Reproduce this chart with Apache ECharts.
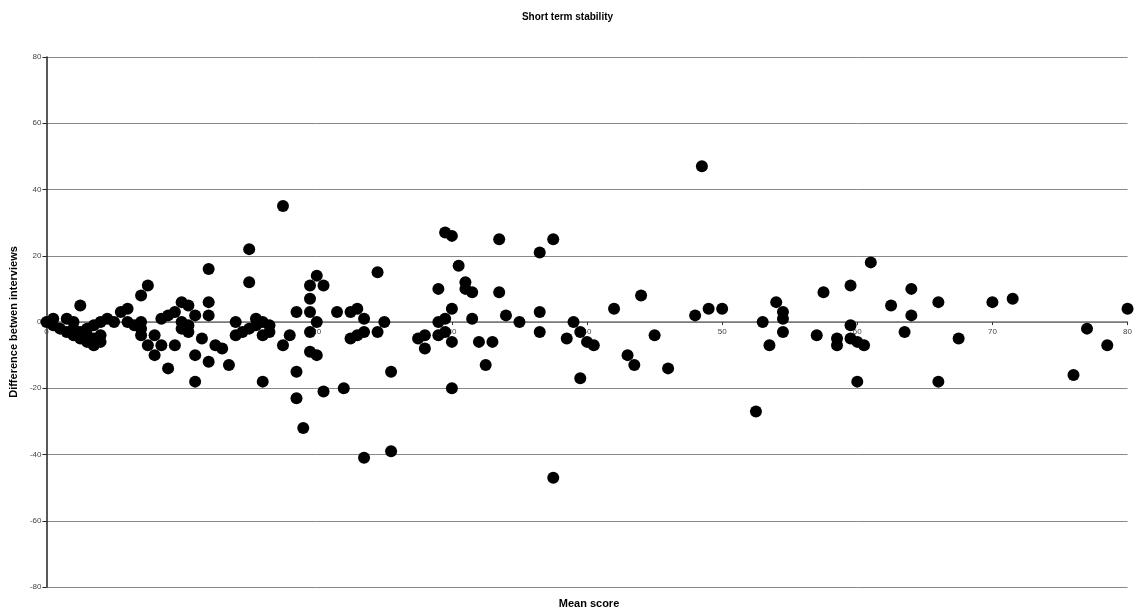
<!DOCTYPE html>
<html><head><meta charset="utf-8">
<script src="https://cdn.jsdelivr.net/npm/echarts@6/dist/echarts.min.js"></script>
<style>html,body{margin:0;padding:0;background:#fff}#c{width:1135px;height:615px}</style>
</head><body><div id="c"></div>
<script>
const xTicks = [0,10,20,30,40,50,60,70,80];
const yTicks = [-80,-60,-40,-20,0,20,40,60,80];
const meanScore = [0,0.5,0.5,1,1.5,1.5,2,2,2,2.5,2.5,2.5,3,3,3,3.5,3.5,3.5,4,4,4,4.5,5,5.5,6,6,6.5,7,7,7,7,7.5,7.5,8,8,8.5,8.5,9,9,9.5,9.5,10,10,10,10.5,10.5,10.5,11,11,11,11.5,12,12,12,12,12.5,13,13.5,14,14,14.5,15,15,15,15.5,15.5,16,16,16,16.5,16.5,
17.5,17.5,18,18.5,18.5,18.5,19,19.5,19.5,19.5,19.5,19.5,20,20,20,20.5,20.5,21.5,22,22.5,22.5,23,23,23.5,23.5,23.5,24.5,24.5,25,25.5,25.5,27.5,28,28,29,29,29,29.5,29.5,29.5,30,30,30,30,30.5,31,31,31.5,31.5,32,32.5,33,33.5,33.5,34,35,36.5,36.5,36.5,37.5,37.5,38.5,39,39.5,39.5,40,40.5,42,43,43.5,44,45,46,48,48.5,49,50,52.5,53,53.5,54,54.5,54.5,54.5,57,57.5,58.5,58.5,59.5,59.5,59.5,60,60,60.5,61,62.5,63.5,64,64,66,66,67.5,70,71.5,76,77,78.5,80];
const difference = [0,1,-1,-2,1,-3,0,-2,-4,5,-3,-5,-2,-4,-6,-1,-5,-7,0,-4,-6,1,0,3,4,0,-1,8,0,-2,-4,11,-7,-4,-10,1,-7,2,-14,3,-7,6,0,-2,5,-1,-3,2,-10,-18,-5,16,6,2,-12,-7,-8,-13,0,-4,-3,22,12,-2,1,-1,0,-4,-18,-1,-3,
35,-7,-4,3,-15,-23,-32,11,7,3,-3,-9,14,0,-10,11,-21,3,-20,3,-5,4,-4,1,-3,-41,15,-3,0,-15,-39,-5,-4,-8,10,0,-4,27,1,-3,26,4,-6,-20,17,12,10,9,1,-6,-13,-6,25,9,2,0,21,3,-3,25,-47,-5,0,-3,-17,-6,-7,4,-10,-13,8,-4,-14,2,47,4,4,-27,0,-7,6,3,1,-3,-4,9,-5,-7,11,-1,-5,-6,-18,-7,18,5,-3,10,2,6,-18,-5,6,7,-16,-2,-7,4];
const points = meanScore.map((x,i)=>[x,difference[i]]);
const chart = echarts.init(document.getElementById('c'), null, {renderer:'canvas'});
const font = 'Arial, "Liberation Sans", sans-serif';
const plotTop = 57, plotBottom = 587;
chart.setOption({
  animation:false,
  backgroundColor:'#fff',
  title:{text:'Short term stability',left:'center',top:7,textStyle:{fontFamily:font,fontSize:10,fontWeight:'bold',color:'#000'}},
  grid:{left:46.5,right:5,top:plotTop,bottom:615-plotBottom,containLabel:false},
  xAxis:{type:'value',min:xTicks[0],max:xTicks[xTicks.length-1],interval:10,position:'bottom',
    offset:-(plotBottom-plotTop)/2,
    axisLine:{onZero:false,lineStyle:{color:'#777',width:1.5}},
    axisTick:{show:true,length:3,lineStyle:{color:'#333'}},
    axisLabel:{fontFamily:font,fontSize:8,color:'#444',margin:6},
    splitLine:{show:false}},
  yAxis:{type:'value',min:yTicks[0],max:yTicks[yTicks.length-1],interval:20,
    name:'Difference betwen interviews',nameLocation:'middle',nameGap:25,nameRotate:90,
    nameTextStyle:{fontFamily:font,fontSize:11,fontWeight:'bold',color:'#000'},
    axisLine:{show:true,onZero:false,lineStyle:{color:'#222',width:1.5}},
    axisTick:{show:true,length:4,lineStyle:{color:'#222'}},
    axisLabel:{fontFamily:font,fontSize:8,color:'#444',margin:5},
    splitLine:{show:true,lineStyle:{color:'#888',width:1}}},
  graphic:[{type:'text',x:589,y:604,style:{text:'Mean score',fontFamily:font,fontSize:11,fontWeight:'bold',fill:'#000',textAlign:'center',textVerticalAlign:'middle'}}],
  series:[{type:'scatter',data:points,symbol:'circle',symbolSize:12,itemStyle:{color:'#000',opacity:1}}]
});
</script></body></html>
